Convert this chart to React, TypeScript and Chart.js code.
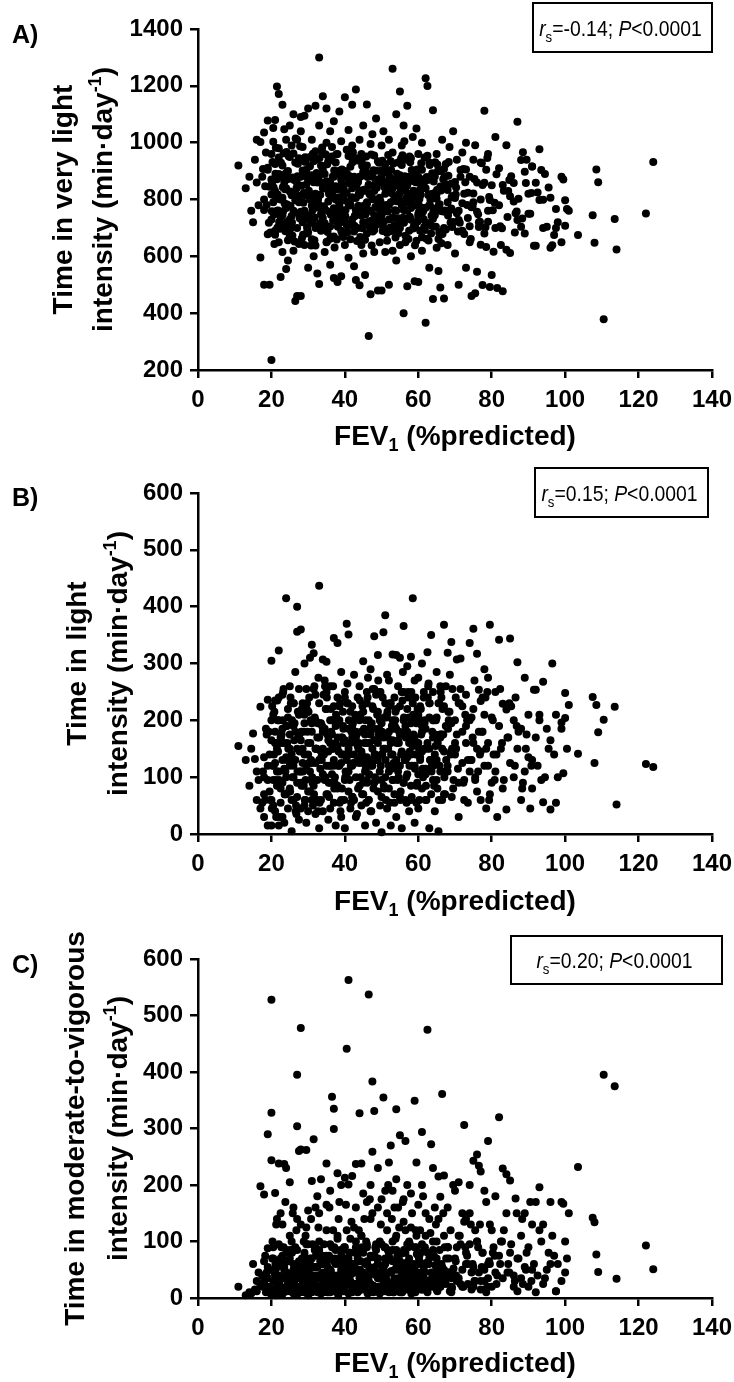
import React, { useEffect, useRef } from "react";
import { Chart, registerables } from "chart.js";

Chart.register(...registerables);

// FEV1 (% predicted), shared by all three panels
const fev1 = [
  11,13,14,14.5,15,15.5,16,16,16.5,17,
  17,17.5,18,18,18,18.5,19,19,19,19.5,
  19.5,20,20,20,20,20.5,20.5,21,21,21,
  21,21.5,21.5,22,22,22,22,22.5,22.5,23,
  23,23,23,23.5,23.5,24,24,24,24,24.5,
  24.5,25,25,25,25,25.5,25.5,26,26,26,
  26,26.5,26.5,27,27,27,27,27.5,27.5,28,
  28,28,28,28.5,28.5,29,29,29,29,29.5,
  29.5,30,30,30,30,30.5,30.5,31,31,31,
  31,31.5,31.5,32,32,32,32,32.5,32.5,33,
  33,33,33,33.5,33.5,34,34,34,34,34.5,
  34.5,35,35,35,35,35.5,35.5,36,36,36,
  36,36.5,36.5,37,37,37,37,37.5,37.5,38,
  38,38,38,38.5,38.5,39,39,39,39,39.5,
  39.5,40,40,40,40,40.5,40.5,41,41,41,
  41,41.5,41.5,42,42,42,42,42.5,42.5,43,
  43,43,43,43.5,43.5,44,44,44,44,44.5,
  44.5,45,45,45,45,45.5,45.5,46,46,46,
  46,46.5,46.5,47,47,47,47,47.5,47.5,48,
  48,48,48,48.5,48.5,49,49,49,49,49.5,
  49.5,50,50,50,50,50.5,50.5,51,51,51,
  51,51.5,51.5,52,52,52,52,52.5,52.5,53,
  53,53,53,53.5,53.5,54,54,54,54,54.5,
  54.5,55,55,55,55,55.5,55.5,56,56,56,
  56,56.5,56.5,57,57,57,57,57.5,57.5,58,
  58,58,58,58.5,58.5,59,59,59,59,59.5,
  59.5,60,60,60,60,60.5,60.5,61,61,61,
  61,61.5,62,62,62,62.5,63,63,63,63.5,
  64,64,64,64.5,65,65,65,65.5,66,66,
  66,66.5,67,67,67,67.5,68,68,68.5,69,
  69,69.5,70,70,70.5,71,71,71.5,72,72,
  72.5,73,73,73.5,74,74,74.5,75,75,75.5,
  76,76,76.5,77,77,77.5,78,78,78.5,79,
  79,79.5,80,80,80.5,81,81,81.5,82,82,
  82.5,83,83,84,84,84.5,85,85,86,86,
  86.5,87,87,88,88,89,89,90,90,91,
  91.5,92,92.5,93,93.5,94,94,95,95.5,96,
  96.5,97,97.5,98,99,99.5,100,100,100.5,101,
  103.5,107.5,108,108.5,109,110.5,113.5,114,122,124,
  88.5,89.5,90.5,91,92,93,94.5,96,97.5,99,
  18,19,20,20.5,21,21.5,22,22.5,23,23.5,
  24,24.5,25,25.5,26,26.5,27,27.5,28,28.5,
  29,29.5,30,30.5,31,31.5,32,32.5,33,33.5,
  34,34.5,35,35.5,36,36.5,37,37.5,38,38.5,
  39,39.5,40,40.5,41,41.5,42,42.5,43,43.5,
  44,44.5,45,45.5,46,46.5,47,47.5,48,48.5,
  49,49.5,50,50.5,51,51.5,52,52.5,53,53.5,
  54,54.5,55,55.5,56,56.5,57,57.5,58,58.5,
  59,59.5,60,60.5,61,61.5,62,62.5,63,63.5,
  64,64.5,65,65.5,66,66.5,67,67.5,68,69,
  70,71,72,73,74,75,76,77,78,79,
  70.5,71.5,72.5,73.5,74.5,75.5,76.5,77.5,78.5,79.5,
  18.3,19.3,20.3,20.8,21.3,21.8,22.3,22.8,23.3,23.8,
  24.3,24.8,25.3,25.8,26.3,26.8,27.3,27.8,28.3,28.8,
  29.3,29.8,30.3,30.8,31.3,31.8,32.3,32.8,33.3,33.8,
  34.3,34.8,35.3,35.8,36.3,36.8,37.3,37.8,38.3,38.8,
  39.3,39.8,40.3,40.8,41.3,41.8,42.3,42.8,43.3,43.8,
  44.3,44.8,45.3,45.8,46.3,46.8,47.3,47.8,48.3,48.8,
  49.3,49.8,50.3,50.8,51.3,51.8,52.3,52.8,53.3,53.8,
  54.3,54.8,55.3,55.8,56.3,56.8,57.3,57.8,58.3,58.8,
  59.3,59.8,60.3,60.8,61.3,61.8,62.3,62.8,63.3,63.8,
  64.3,64.8,65.3,65.8,66.3,66.8,67.3,68.3,68.8,69.3,
  17.7,18.7,19.7,20.2,20.7,21.2,21.7,22.2,22.7,23.2,
  23.7,24.2,24.7,25.2,25.7,26.2,26.7,27.2,27.7,28.2,
  28.7,29.2,29.7,30.2,30.7,31.2,31.7,32.2,32.7,33.2,
  33.7,34.2,34.7,35.2,35.7,36.2,36.7,37.2,37.7,38.2,
  38.7,39.2,39.7,40.2,40.7,41.2,41.7,42.2,42.7,43.2,
  43.7,44.2,44.7,45.2,45.7,46.2,46.7,47.2,47.7,48.2,
  48.7,49.2,49.7,50.2,50.7,51.2,51.7,52.2,52.7,53.2,
  53.7,54.2,54.7,55.2,55.7,56.2,56.7,57.2,57.7,58.2,
  58.7,59.2,59.7,60.2,60.7,61.2,61.7,62.2,62.7,63.2,
  63.7,64.2,64.7,65.2,65.7,66.2,67.2,68.2,69.2,70.2,
  20.1,21.1,22.1,23.1,24.1,25.1,26.1,27.1,28.1,29.1,
  30.1,31.1,32.1,33.1,34.1,35.1,36.1,37.1,38.1,39.1,
  40.1,41.1,42.1,43.1,44.1,45.1,46.1,47.1,48.1,49.1,
  50.1,51.1,52.1,53.1,54.1,55.1,56.1,57.1,58.1,59.1,
  60.1,61.1,62.1,63.1,64.1,65.1,66.1,67.1,68.1,69.1,
  20.6,21.6,22.6,23.6,24.6,25.6,26.6,27.6,28.6,29.6,
  30.6,31.6,32.6,33.6,34.6,35.6,36.6,37.6,38.6,39.6,
  40.6,41.6,42.6,43.6,44.6,45.6,46.6,47.6,48.6,49.6,
  50.6,51.6,52.6,53.6,54.6,55.6,56.6,57.6,58.6,59.6,
  60.6,61.6,62.6,63.6,64.6,65.6,66.6,67.6,68.6,69.6,
  70.3,71.3,72.3,73.3,74.3,75.3,76.3,77.3,78.3,79.3,
  80.3,81.3,82.3,83.3,84.3,85.3,86.3,87.3,88.3,89.3,
  70.8,72.8,74.8,76.8,78.8,80.8,82.8,84.8,86.8,90.8,
];

// A) time in very light intensity (min/day)
const veryLight = [
  920,840,880,760,720,940,1010,860,780,596,
  1002,880,1036,500,800,965,1078,678,905,500,
  845,235,870,730,960,790,1052,1080,690,925,
  830,1198,760,1171,650,890,980,527,800,745,
  1133,920,615,860,705,555,1010,840,770,585,
  900,1060,730,950,670,815,990,875,620,1100,
  760,443,930,1010,700,855,460,945,790,1090,
  460,1040,880,720,985,640,815,1095,760,905,
  680,870,1120,745,560,950,800,660,1010,885,
  740,935,600,1130,820,700,970,860,540,1300,
  503,780,1060,920,690,1163,840,735,965,615,
  890,1120,760,1000,650,830,935,705,1040,570,
  860,755,985,524,880,670,1075,800,930,720,
  510,960,835,780,1110,530,870,690,1005,815,
  745,1160,900,640,820,975,710,860,595,1045,
  785,915,660,1133,840,730,990,565,880,1187,
  517,805,945,700,870,498,1010,765,880,640,
  960,830,720,1060,610,534,905,1134,790,680,
  920,320,850,467,760,995,690,880,1030,745,
  955,615,830,710,1085,480,870,770,935,650,
  860,480,990,745,880,700,1040,820,615,925,
  760,895,655,500,840,1010,730,935,790,1260,
  870,620,965,805,710,1100,850,760,585,930,
  810,1180,700,885,640,990,780,400,870,725,
  1060,830,650,495,940,760,1130,880,690,820,
  945,600,770,1020,865,715,512,900,810,655,
  1050,880,510,750,960,690,835,1000,770,620,
  905,730,366,1227,840,1199,560,930,780,680,
  870,1114,450,745,960,630,820,548,900,760,
  490,1010,452,840,700,925,790,640,985,855,
  720,1040,805,610,940,760,500,880,690,965,
  820,560,1000,735,880,650,460,940,790,470,
  860,546,720,930,800,499,1112,680,905,760,
  960,492,534,850,616,700,1020,489,910,780,
  640,851,477,991,623,830,811,612,858,793,
  752,728,1074,704,939,898,680,750,820,916,
  637,859,825,977,904,700,799,704,842,630,
  639,675,767,720,650,870,797,708,767,760,
  675,745,648,906,861,379,731,624,751,932,
  966,940,750,916,637,798,890,806,700,880,
  763,912,818,1003,676,871,948,738,806,1047,
  893,657,828,742,962,797,874,643,757,902,
  731,853,684,917,778,861,638,772,883,749,
  906,716,864,793,662,951,769,847,733,901,
  748,884,727,823,953,711,808,687,762,937,
  832,744,897,658,783,852,724,801,693,866,
  714,806,872,758,908,682,781,853,736,799,
  868,734,796,921,763,672,849,792,729,884,
  779,903,741,826,667,858,771,954,717,819,
  732,881,803,661,846,759,907,694,833,768,
  862,728,787,906,706,821,757,641,859,722,
  752,904,679,824,773,991,703,851,633,798,
  847,718,932,643,802,761,697,878,963,688,
  782,956,709,877,652,839,751,987,664,823,
  934,696,811,638,961,737,893,702,817,983,
  776,958,686,852,814,726,898,659,807,764,
  678,797,883,707,784,862,942,743,654,821,
  881,699,779,951,721,818,638,903,774,731,
  929,762,689,843,781,957,701,822,868,666,
  698,819,944,736,882,804,661,931,791,706,
  861,723,802,928,758,693,879,656,799,892,
  822,704,899,783,646,871,761,932,719,812,
  907,781,684,862,747,982,818,708,886,759,
  836,721,952,777,673,869,811,926,734,848,
  789,949,703,831,884,762,657,941,802,716,
  858,771,698,924,819,746,881,631,959,796,
  719,906,837,763,685,883,801,966,742,853,
  778,668,919,834,752,879,706,958,803,744,
  841,722,793,936,695,861,758,879,689,927,
  761,891,713,829,956,1005,804,863,739,904,
  831,702,906,756,871,733,948,662,816,779,
  707,863,768,923,683,832,757,884,703,818,
  759,891,721,843,967,696,814,882,746,933,
  871,717,798,946,761,651,829,902,704,853,
  742,858,931,699,816,764,893,723,851,791,
  903,763,697,841,794,932,718,866,797,639,
  782,848,711,921,757,833,686,879,744,808,
  842,701,929,786,872,719,1015,813,676,881,
  726,883,792,859,704,937,817,752,888,668,
  891,779,708,862,936,747,823,687,901,772,
  722,828,904,761,681,852,788,951,698,861,
  816,703,869,743,931,781,679,854,762,721,
  842,718,907,781,661,872,748,928,702,809,
  762,889,706,831,738,882,684,803,733,858,
  687,861,776,722,946,789,699,869,758,823,
];

// B) time in light intensity (min/day)
const light = [
  155,130,85,150,177,132,110,60,95,45,
  224,55,70,100,30,185,236,120,15,75,
  140,15,305,165,60,210,95,125,40,180,
  235,85,150,323,15,110,200,55,170,130,
  90,245,30,160,115,415,190,70,135,220,
  45,120,260,80,175,5,140,230,100,60,
  190,130,285,400,356,65,150,210,25,110,
  165,360,90,230,125,50,195,300,140,20,
  255,75,160,215,40,310,110,180,60,333,
  125,318,85,200,150,35,245,95,170,437,
  10,230,130,60,195,307,105,150,40,270,
  185,303,120,70,220,145,25,200,90,160,
  260,105,175,345,55,225,130,15,190,336,
  80,155,240,120,200,60,285,170,30,140,
  215,95,165,10,250,130,370,75,185,110,
  351,160,45,225,120,190,65,280,140,205,
  100,170,30,240,155,85,200,125,260,50,
  180,304,135,70,215,110,15,160,250,95,
  135,200,60,175,290,120,40,225,150,348,
  185,90,255,130,20,160,215,75,315,110,
  250,3,140,195,65,355,170,385,100,230,
  150,45,210,120,270,180,80,160,15,316,
  200,95,140,240,55,130,315,185,30,260,
  110,310,175,65,225,145,10,366,200,90,
  250,130,60,180,295,105,220,40,160,312,
  85,195,140,415,230,120,20,270,170,55,
  195,275,105,160,45,225,135,300,80,190,
  145,240,60,185,115,320,10,205,150,350,
  95,170,250,40,205,130,285,5,175,110,
  260,150,368,225,70,190,319,120,215,145,
  338,80,200,160,307,30,230,309,125,180,
  95,245,160,55,336,200,130,361,220,100,
  317,150,254,60,234,180,120,210,45,275,
  160,368,90,205,140,250,110,30,342,190,
  150,229,80,219,43,170,344,125,200,100,
  240,302,150,60,185,275,110,210,135,80,
  254,170,120,200,95,56,268,185,150,43,
  300,140,210,100,185,107,204,248,150,227,
  141,241,125,227,179,201,224,52,123,118,
  90,175,45,130,254,210,100,165,55,196,
  135,95,200,50,160,110,240,80,185,20,
  100,205,150,60,120,180,90,255,45,150,
  210,115,140,75,195,255,125,60,170,145,
  180,95,250,165,45,200,120,160,85,225,
  125,190,240,100,150,215,170,60,180,130,
  205,145,90,175,230,60,185,120,165,245,
  130,200,95,150,175,280,110,230,165,70,
  220,165,120,250,90,190,135,205,60,155,
  160,85,210,130,180,250,105,160,230,70,
  200,140,95,230,170,60,145,260,110,195,
  140,90,225,190,110,160,75,145,290,120,
  175,255,60,130,205,95,180,240,150,70,
  60,180,120,215,30,145,90,175,255,110,
  160,75,230,130,195,35,170,110,220,85,
  95,180,240,130,50,205,150,275,115,190,
  140,220,70,120,180,260,100,195,145,40,
  170,60,140,230,95,180,125,210,35,160,
  100,225,160,55,275,130,195,80,140,210,
  185,120,240,80,205,150,55,190,125,215,
  95,180,140,285,130,55,240,170,120,200,
  140,220,60,175,100,200,150,265,130,180,
  85,200,160,120,240,175,70,200,140,255,
  110,175,60,225,140,95,200,30,160,250,
  70,190,130,240,100,165,50,215,145,85,
  180,60,230,125,200,90,260,150,40,195,
  130,245,100,175,65,220,150,90,205,120,
  230,80,160,110,265,140,55,195,125,175,
  150,210,70,185,115,240,160,40,220,100,
  95,175,250,140,205,60,170,230,115,185,
  200,120,160,75,235,180,100,250,145,65,
  175,240,90,150,220,115,195,60,260,130,
  120,200,155,80,230,175,110,215,150,240,
  45,160,95,200,130,75,230,110,180,60,
  215,100,150,55,185,240,120,80,170,140,
  100,200,65,160,235,125,90,190,140,270,
  180,130,225,95,160,60,205,140,250,115,
  140,195,85,230,120,170,250,100,185,65,
  120,235,170,70,150,200,40,175,110,220,
  160,70,195,135,260,90,150,210,55,185,
  230,120,180,80,140,200,105,255,165,50,
  85,215,140,190,100,250,170,120,210,160,
  200,150,240,110,175,60,220,130,280,95,
  150,230,90,200,130,270,110,180,240,60,
  200,140,255,95,170,225,120,180,80,150,
  115,210,170,140,250,95,160,230,190,120,
];

// C) time in moderate-to-vigorous intensity (min/day)
const mvpa = [
  20,5,10,8,60,15,30,12,45,22,
  198,40,183,25,65,10,290,88,35,18,
  50,5,528,328,244,30,70,12,15,48,
  186,25,60,238,10,95,40,150,20,75,
  130,35,8,237,55,230,18,85,45,28,
  22,12,70,30,205,40,100,28,160,60,
  8,90,45,304,395,20,140,260,65,35,
  478,263,15,60,50,10,80,18,30,125,
  262,45,95,5,155,60,25,207,40,35,
  70,18,281,40,15,12,90,55,180,20,
  150,85,35,8,210,28,20,60,45,40,
  15,165,75,238,45,10,22,50,190,10,
  95,30,356,335,299,65,12,18,85,221,
  40,110,25,170,60,12,75,200,35,20,
  55,213,90,20,30,441,40,201,8,70,
  563,30,105,216,60,15,25,45,125,237,
  25,90,160,10,70,327,35,14,50,110,
  238,15,80,185,45,30,20,65,170,30,
  95,10,537,50,140,25,200,383,259,75,
  331,45,20,15,85,160,35,230,60,8,
  100,40,175,20,35,355,55,90,12,190,
  60,150,30,240,80,10,20,270,45,20,
  100,65,190,35,30,334,15,85,210,50,
  160,25,10,288,60,40,10,80,45,175,
  30,120,278,55,95,15,200,70,24,40,
  125,30,185,60,10,349,90,15,35,240,
  110,60,20,165,75,30,40,200,15,95,
  294,50,20,110,18,475,70,140,30,272,
  85,230,40,160,15,100,55,215,20,35,
  179,361,217,50,40,25,90,160,45,10,
  20,200,70,190,30,35,205,95,50,150,
  306,60,140,25,200,95,45,243,20,30,
  254,100,234,15,224,80,30,50,170,35,
  278,60,120,20,90,180,45,40,320,75,
  100,229,35,219,150,60,80,208,20,40,
  176,12,70,110,35,150,55,90,20,130,
  60,170,40,196,100,25,130,50,80,170,
  110,75,12,60,30,167,100,45,70,150,
  232,142,134,77,46,395,375,34,93,51,
  25,80,170,50,10,120,35,60,12,170,
  30,55,15,90,40,140,25,70,10,50,
  65,20,110,35,50,15,85,40,130,25,
  45,95,30,70,10,55,160,40,100,20,
  75,30,120,50,15,90,40,60,105,20,
  50,15,70,120,35,80,10,55,100,65,
  40,110,25,60,90,30,75,150,20,95,
  60,35,95,15,70,120,45,25,85,160,
  110,30,65,20,135,80,45,100,15,60,
  50,90,25,120,60,35,150,10,80,45,
  100,30,70,140,20,55,110,40,90,15,
  40,110,20,80,150,55,100,30,190,60,
  90,25,135,60,15,120,45,80,10,130,
  75,20,100,45,130,8,60,35,90,170,
  15,80,40,150,25,120,60,10,70,100,
  110,25,60,140,40,85,20,125,65,30,
  95,15,55,160,35,120,70,25,140,85,
  30,90,165,25,60,135,45,80,15,120,
  65,20,140,100,35,175,50,10,90,40,
  20,130,50,90,30,200,70,140,10,105,
  75,125,35,170,55,20,90,40,150,30,
  120,40,75,15,180,90,30,60,115,25,
  45,130,20,85,60,150,30,70,120,40,
  20,45,10,70,30,5,55,25,90,15,
  40,12,65,28,85,18,50,8,35,60,
  25,70,15,45,10,95,30,55,20,40,
  60,22,38,10,75,48,15,88,30,5,
  35,65,12,50,28,80,42,18,60,25,
  15,48,90,30,62,8,40,72,22,55,
  70,20,45,12,58,35,85,25,48,10,
  30,62,18,78,40,15,55,28,95,45,
  52,10,38,68,24,82,45,15,60,32,
  20,75,40,12,55,30,90,45,18,65,
  15,60,30,8,45,85,20,50,12,35,
  55,20,75,40,10,65,28,90,18,48,
  30,50,15,80,38,22,60,10,45,70,
  12,42,68,25,55,18,85,35,8,58,
  40,20,62,30,75,15,50,28,90,35,
  50,12,35,65,22,80,40,10,58,28,
  20,55,10,42,70,30,15,62,38,85,
  65,25,48,12,82,35,55,20,40,10,
  28,70,18,50,35,10,62,45,22,78,
  45,15,80,30,58,22,40,70,12,52,
  40,110,20,75,130,30,90,55,15,65,
  80,25,60,120,45,95,30,70,140,50,
  35,90,60,130,20,75,100,45,150,30,
];

const xAxisRange = [0, 140];
const xTickStep = 20;
const panelLabels = ["A)", "B)", "C)"];
const yTitleFirstLines = ["Time in very light", "Time in light", "Time in moderate-to-vigorous"];
const yRanges = [[200, 1400], [0, 600], [0, 600]];
const yTickSteps = [200, 100, 100];
const rsTexts = ["=-0.14; ", "=0.15; ", "=0.20; "];

const FONT = '"Liberation Sans", Arial, Helvetica, sans-serif';

type Run = { t: string; font: string; dy?: number };

function drawRuns(ctx: CanvasRenderingContext2D, runs: Run[], x: number, y: number, align: string) {
  let total = 0;
  const widths = runs.map((r) => {
    ctx.font = r.font;
    const w = ctx.measureText(r.t).width;
    total += w;
    return w;
  });
  let cx = align === "center" ? x - total / 2 : align === "right" ? x - total : x;
  ctx.textAlign = "left";
  ctx.textBaseline = "alphabetic";
  runs.forEach((r, i) => {
    ctx.font = r.font;
    ctx.fillText(r.t, cx, y + (r.dy || 0));
    cx += widths[i];
  });
}

// layout of each panel (canvas-relative pixel positions)
const layouts = [
  { canvasTop: 0, h: 461, top: 29, bottom: 370, l1: 65, l2: 105, box: [533, 3, 712, 52], labelBase: 43, xTitleBase: 445 },
  { canvasTop: 461, h: 461, top: 32, bottom: 373, l1: 78.5, l2: 120, box: [535, 7, 708, 56], labelBase: 45, xTitleBase: 449 },
  { canvasTop: 922, h: 460, top: 37, bottom: 376, l1: 76.5, l2: 119.5, box: [511, 14, 722, 62], labelBase: 51, xTitleBase: 450 },
];

const seriesList = [veryLight, light, mvpa];

function makeChart(canvas: HTMLCanvasElement, idx: number) {
  const L = layouts[idx];
  const ys = seriesList[idx];
  const points = fev1.map((x, i) => ({ x, y: ys[i] })).filter((p) => p.y !== undefined);
  const titleBold = `bold 28px ${FONT}`;

  const textPlugin = {
    id: "panelText" + idx,
    afterDraw(chart: any) {
      const ctx: CanvasRenderingContext2D = chart.ctx;
      const ca = chart.chartArea;
      ctx.save();
      ctx.fillStyle = "#000";
      drawRuns(ctx, [{ t: panelLabels[idx], font: `bold 25px ${FONT}` }], 12, L.labelBase, "left");
      drawRuns(
        ctx,
        [
          { t: "FEV", font: titleBold },
          { t: "1", font: `bold 18px ${FONT}`, dy: 6 },
          { t: " (%predicted)", font: titleBold },
        ],
        (ca.left + ca.right) / 2,
        L.xTitleBase,
        "center"
      );
      const cy = (ca.top + ca.bottom) / 2;
      ctx.save();
      ctx.translate(L.l1 + 7, cy);
      ctx.rotate(-Math.PI / 2);
      drawRuns(ctx, [{ t: yTitleFirstLines[idx], font: titleBold }], 0, 0, "center");
      ctx.restore();
      ctx.save();
      ctx.translate(L.l2 + 7, cy);
      ctx.rotate(-Math.PI / 2);
      drawRuns(
        ctx,
        [
          { t: "intensity (min\u00B7day", font: titleBold },
          { t: "-1", font: `bold 18px ${FONT}`, dy: -11 },
          { t: ")", font: titleBold },
        ],
        0,
        0,
        "center"
      );
      ctx.restore();
      const [x1, y1, x2, y2] = L.box;
      ctx.fillStyle = "#fff";
      ctx.fillRect(x1, y1, x2 - x1, y2 - y1);
      ctx.strokeStyle = "#000";
      ctx.lineWidth = 2;
      ctx.strokeRect(x1, y1, x2 - x1, y2 - y1);
      ctx.fillStyle = "#000";
      ctx.save();
      ctx.translate((x1 + x2) / 2 - 2, (y1 + y2) / 2 + 8);
      ctx.scale(0.88, 1);
      drawRuns(
        ctx,
        [
          { t: "r", font: `italic 22px ${FONT}` },
          { t: "s", font: `15px ${FONT}`, dy: 6 },
          { t: rsTexts[idx], font: `22px ${FONT}` },
          { t: "P", font: `italic 22px ${FONT}` },
          { t: "<0.0001", font: `22px ${FONT}` },
        ],
        0,
        0,
        "center"
      );
      ctx.restore();
      ctx.restore();
    },
  };

  const tickFont = { family: FONT, size: 24, weight: "bold" as const };
  const gridOpts = {
    display: true,
    drawOnChartArea: false,
    drawTicks: true,
    tickLength: 8,
    tickWidth: 2.5,
    tickColor: "#000",
    color: "#000",
    lineWidth: 2.5,
  };
  return new Chart(canvas, {
    type: "scatter",
    data: {
      datasets: [
        {
          data: points,
          pointRadius: 4,
          pointBackgroundColor: "#000",
          pointBorderWidth: 0,
          showLine: false,
          clip: false as any,
        },
      ],
    },
    options: {
      animation: false,
      responsive: false,
      maintainAspectRatio: false,
      events: [],
      layout: { padding: { top: L.top, right: 22, left: 0, bottom: 0 } },
      plugins: { legend: { display: false }, tooltip: { enabled: false } },
      scales: {
        x: {
          type: "linear",
          min: xAxisRange[0],
          max: xAxisRange[1],
          ticks: {
            stepSize: xTickStep,
            color: "#000",
            font: tickFont,
            padding: 8,
            maxRotation: 0,
            callback: (v: any) => String(v),
          },
          grid: gridOpts,
          border: { display: true, color: "#000", width: 2.5 },
          afterFit: (s: any) => {
            s.height = L.h - L.bottom;
            s.paddingLeft = 0;
            s.paddingRight = 0;
          },
        },
        y: {
          type: "linear",
          min: yRanges[idx][0],
          max: yRanges[idx][1],
          ticks: {
            stepSize: yTickSteps[idx],
            color: "#000",
            font: tickFont,
            padding: 7,
            callback: (v: any) => String(v),
          },
          grid: gridOpts,
          border: { display: true, color: "#000", width: 2.5 },
          afterFit: (s: any) => {
            s.width = 198;
            s.paddingTop = 0;
            s.paddingBottom = 0;
          },
        },
      },
    },
    plugins: [textPlugin],
  } as any);
}

export default function App() {
  const refs = [useRef<HTMLCanvasElement>(null), useRef<HTMLCanvasElement>(null), useRef<HTMLCanvasElement>(null)];
  useEffect(() => {
    const charts = refs.map((r, i) => (r.current ? makeChart(r.current, i) : null));
    return () => {
      charts.forEach((c) => c && c.destroy());
    };
  }, []);
  return (
    <div style={{ position: "absolute", left: 0, top: 0, width: 734, height: 1382, background: "#fff", overflow: "hidden" }}>
      {layouts.map((L, i) => (
        <canvas
          key={i}
          ref={refs[i]}
          width={734}
          height={L.h}
          style={{ position: "absolute", left: 0, top: L.canvasTop, width: 734, height: L.h, display: "block" }}
        />
      ))}
    </div>
  );
}
